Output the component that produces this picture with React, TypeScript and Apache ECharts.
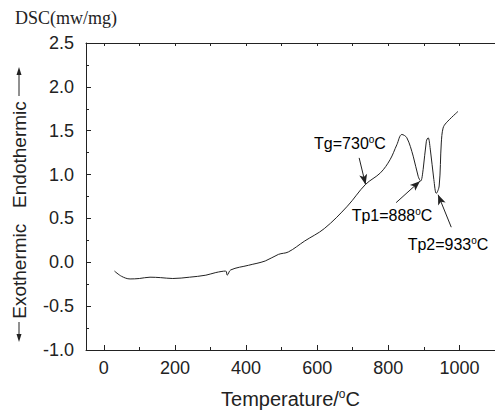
import React, { useEffect, useRef } from "react";
import * as echarts from "echarts";

const temps = [30, 50, 74, 100, 130, 160, 194, 241, 287, 315, 343, 347, 357, 407, 454, 491, 519, 565, 620, 685, 736, 778, 805, 824, 838, 852, 870, 884, 891, 898, 907, 912, 918, 928, 935, 943, 949, 954, 963, 996];
const dsc = [-0.1, -0.16, -0.19, -0.185, -0.17, -0.175, -0.185, -0.17, -0.147, -0.117, -0.1, -0.147, -0.087, -0.034, 0.015, 0.09, 0.118, 0.243, 0.384, 0.64, 0.888, 1.02, 1.17, 1.34, 1.457, 1.42, 1.21, 0.98, 0.926, 1.06, 1.38, 1.42, 1.29, 0.945, 0.786, 0.87, 1.36, 1.53, 1.59, 1.72];

const xMajor = [0, 200, 400, 600, 800, 1000];
const xMinor = [100, 300, 500, 700, 900];
const xTop = [0, 100, 200, 300, 400, 500, 600, 700, 800, 900, 1000];

// annotation arrows: [fromX, fromY, toX, toY]
const arrows = [
  [718, 1.19, 736, 0.888],
  [822, 0.68, 889, 0.925],
  [977, 0.4, 940, 0.77],
];

const FONT = "Liberation Sans, Arial, Helvetica, sans-serif";
const INK = "#222";

export default function App() {
  const ref = useRef<HTMLDivElement>(null);
  useEffect(() => {
    document.body.style.margin = "0";
    const chart = echarts.init(ref.current!, null, { renderer: "svg" });
    const data = temps.map((t, i) => [t, dsc[i]]);
    const supRich = {
      a: { fontSize: 16, fontFamily: FONT, color: INK, lineHeight: 18 },
      sup: { fontSize: 10, fontFamily: FONT, color: INK, verticalAlign: "top", lineHeight: 18 },
    };
    const baseX = {
      type: "value",
      min: -50,
      max: 1100,
      splitLine: { show: false },
    };
    chart.setOption({
      animation: false,
      grid: { left: 86, top: 43, bottom: 64, right: -5 },
      xAxis: [
        {
          ...baseX,
          position: "bottom",
          axisLine: { show: true, onZero: false, lineStyle: { color: INK, width: 1 } },
          axisTick: { show: true, inside: true, length: 5, customValues: xMajor, lineStyle: { color: INK } },
          axisLabel: {
            customValues: xMajor,
            fontSize: 18,
            fontFamily: FONT,
            color: INK,
            margin: 9,
            formatter: (v: number) => String(v),
          },
          name: "Temperature/{s|o}C",
          nameLocation: "middle",
          nameGap: 38,
          nameTextStyle: {
            fontSize: 20,
            fontFamily: FONT,
            color: INK,
            rich: {
              s: { fontSize: 12, fontFamily: FONT, color: INK, verticalAlign: "top", lineHeight: 22 },
            },
            lineHeight: 22,
          },
        },
        {
          ...baseX,
          position: "bottom",
          axisLine: { show: false, onZero: false },
          axisTick: { show: true, inside: true, length: 3, customValues: xMinor, lineStyle: { color: INK } },
          axisLabel: { show: false },
        },
        {
          ...baseX,
          position: "top",
          axisLine: { show: true, onZero: false, lineStyle: { color: INK, width: 1 } },
          axisTick: { show: true, inside: true, length: 3, customValues: xTop, lineStyle: { color: INK } },
          axisLabel: { show: false },
        },
      ],
      yAxis: {
        type: "value",
        min: -1,
        max: 2.5,
        interval: 0.5,
        position: "left",
        splitLine: { show: false },
        axisLine: { show: true, onZero: false, lineStyle: { color: INK, width: 1 } },
        axisTick: { show: true, inside: true, length: 5, lineStyle: { color: INK } },
        minorTick: { show: true, splitNumber: 2, length: 3, lineStyle: { color: INK } },
        axisLabel: {
          fontSize: 18,
          fontFamily: FONT,
          color: INK,
          margin: 12,
          formatter: (v: number) => v.toFixed(1),
        },
      },
      series: [
        {
          type: "line",
          xAxisIndex: 0,
          data,
          smooth: 0.35,
          showSymbol: false,
          symbol: "none",
          lineStyle: { color: INK, width: 1 },
          markLine: {
            silent: true,
            symbol: ["none", "arrow"],
            symbolSize: [6, 10],
            label: { show: false },
            lineStyle: { color: INK, width: 1, type: "solid" },
            data: arrows.map((a) => [
              { coord: [a[0], a[1]] },
              { coord: [a[2], a[3]] },
            ]),
          },
        },
      ],
      graphic: [
        {
          type: "text",
          left: 15,
          top: 9,
          style: { text: "DSC(mw/mg)", fontSize: 18, fontFamily: "Liberation Serif, Times New Roman, serif", fill: INK },
        },
        {
          type: "text",
          x: 19,
          y: 210,
          rotation: Math.PI / 2,
          style: {
            text: "Exothermic   Endothermic",
            fontSize: 19,
            fontFamily: FONT,
            fill: INK,
            align: "center",
            verticalAlign: "middle",
          },
        },
        // vertical arrows beside the rotated label
        { type: "line", shape: { x1: 19, y1: 322, x2: 19, y2: 337 }, style: { stroke: INK, lineWidth: 1 } },
        { type: "polygon", shape: { points: [[16.5, 334], [21.5, 334], [19, 342]] }, style: { fill: INK } },
        { type: "line", shape: { x1: 19, y1: 96, x2: 19, y2: 72 }, style: { stroke: INK, lineWidth: 1 } },
        { type: "polygon", shape: { points: [[16.5, 75], [21.5, 75], [19, 67]] }, style: { fill: INK } },
        {
          type: "text",
          x: 350,
          y: 143,
          style: { text: "{a|Tg=730}{sup|o}{a|C}", rich: supRich, align: "center", verticalAlign: "middle" },
        },
        {
          type: "text",
          x: 392,
          y: 215,
          style: { text: "{a|Tp1=888}{sup|o}{a|C}", rich: supRich, align: "center", verticalAlign: "middle" },
        },
        {
          type: "text",
          x: 448,
          y: 244,
          style: { text: "{a|Tp2=933}{sup|o}{a|C}", rich: supRich, align: "center", verticalAlign: "middle" },
        },
      ],
    });
    return () => chart.dispose();
  }, []);
  return <div ref={ref} style={{ width: 495, height: 415 }} />;
}
